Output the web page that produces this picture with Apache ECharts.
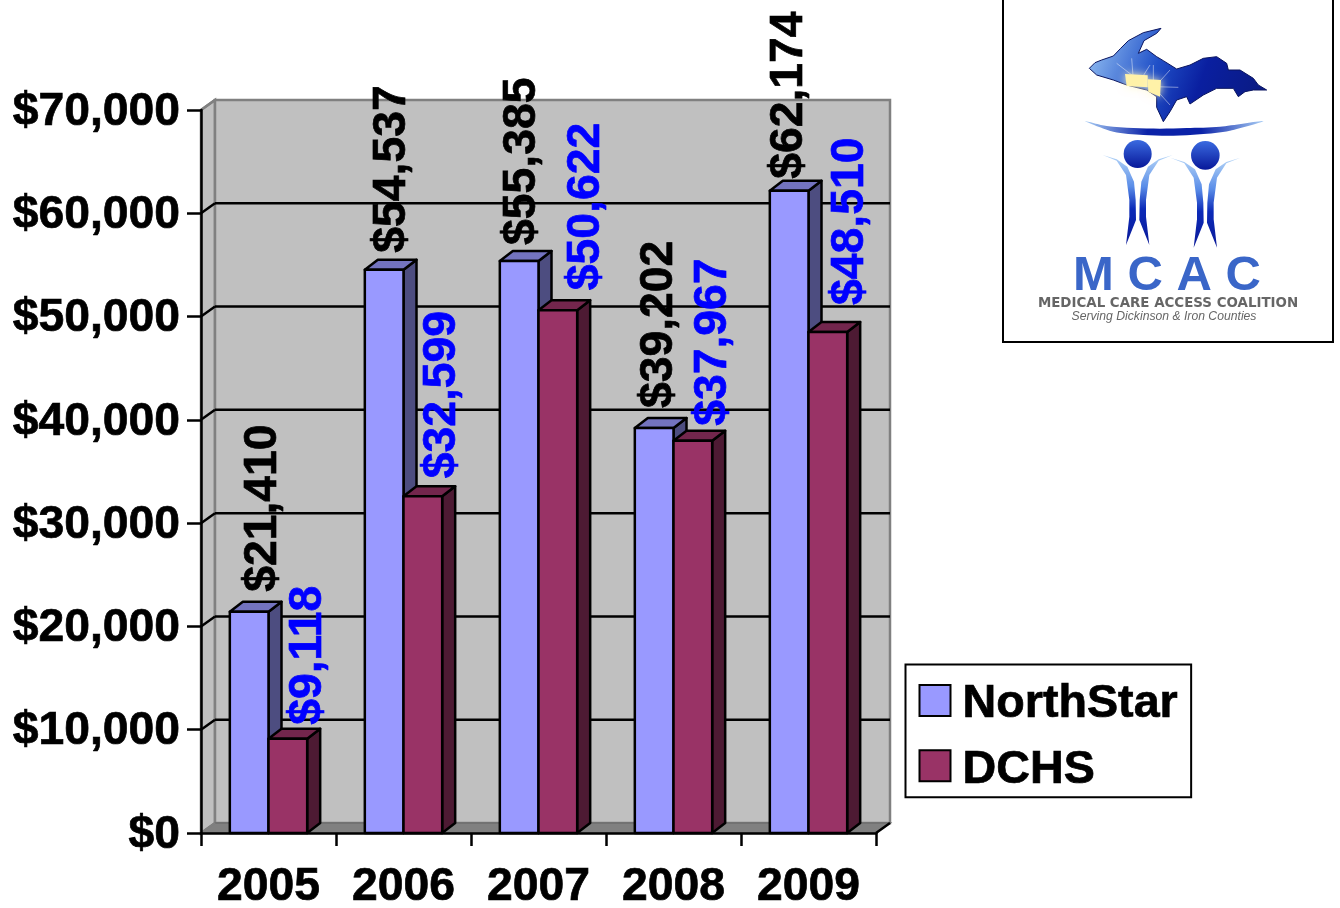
<!DOCTYPE html>
<html>
<head>
<meta charset="utf-8">
<style>html,body{margin:0;padding:0;background:#fff}#c{width:1340px;height:908px}</style>
<script src="https://cdn.jsdelivr.net/npm/echarts@6/dist/echarts.min.js"></script>
</head>
<body>
<div id="c"></div>
<script>
const years = ['2005','2006','2007','2008','2009'];
const northStar = [21410,54537,55385,39202,62174];
const dchs = [9118,32599,50622,37967,48510];
const yTicks = [0,10000,20000,30000,40000,50000,60000,70000];

// label placement nudges [dx from bar centre, gap above bar top], px
const nsNudge = [[14,20],[8,17],[3,16],[5,20],[0,12]];
const dcNudge = [[20,14],[19,18],[28,20],[20,15],[22,27]];

const FONT = '"Liberation Sans", Arial, sans-serif';
const WALL_DX = 14, WALL_DY = 10, BAR_DX = 13, BAR_DY = 10;
const money = v => '$' + v.toLocaleString('en-US');

function barSeries(name, values, nudge, seriesIdx, front, top, side, labelColor) {
  return {
    type: 'custom', name,
    itemStyle: {color: front, borderColor: '#000', borderWidth: 2.5},
    data: values.map((v,i) => [i,v]),
    encode: {x:0, y:1},
    renderItem(params, api) {
      const i = api.value(0), v = api.value(1);
      const p = api.coord([i, v]), b = api.coord([i, 0]);
      const w = api.size([1,0])[0] * 0.2865;
      const x0 = p[0] - w + seriesIdx * w, x1 = x0 + w, yt = p[1], yb = b[1];
      const line = {stroke:'#000', lineWidth:2.5, lineJoin:'round'};
      const n = nudge[i];
      return {type:'group', children:[
        {type:'polygon', shape:{points:[[x1,yb],[x1,yt],[x1+BAR_DX,yt-BAR_DY],[x1+BAR_DX,yb-BAR_DY]]}, style:Object.assign({fill:side},line)},
        {type:'polygon', shape:{points:[[x0,yt],[x0+BAR_DX,yt-BAR_DY],[x1+BAR_DX,yt-BAR_DY],[x1,yt]]}, style:Object.assign({fill:top},line)},
        {type:'rect', shape:{x:x0,y:yt,width:w,height:yb-yt}, style:Object.assign({fill:front},line)},
        {type:'text', x:x0 + w/2 + n[0], y:yt - n[1], rotation:Math.PI/2, z2:20,
          style:{text:money(v), fill:labelColor, font:'bold 46.3px '+FONT, align:'left', verticalAlign:'middle', stroke:labelColor, lineWidth:0.7}}
      ]};
    }
  };
}

const wallSeries = {
  type:'custom', silent:true, data:[[0,0]], encode:{x:0,y:1},
  renderItem(params, api) {
    const c = params.coordSys, L=c.x, R=c.x+c.width, T=c.y, B=c.y+c.height;
    const st = {stroke:'#808080', lineWidth:2.5, fill:'#c0c0c0'};
    return {type:'group', children:[
      {type:'polygon', shape:{points:[[L,T],[L+WALL_DX,T-WALL_DY],[L+WALL_DX,B-WALL_DY],[L,B]]}, style:st},
      {type:'rect', shape:{x:L+WALL_DX,y:T-WALL_DY,width:c.width,height:c.height}, style:st},
      {type:'polygon', shape:{points:[[L,B],[L+WALL_DX,B-WALL_DY],[R+WALL_DX,B-WALL_DY],[R,B]]}, style:{fill:'#808080', stroke:'#6e6e6e', lineWidth:1.5}}
    ]};
  }
};

const gridSeries = {
  type:'custom', silent:true, data:yTicks.map(v=>[0,v]), encode:{x:0,y:1},
  renderItem(params, api) {
    const c = params.coordSys, L=c.x, R=c.x+c.width, v=api.value(1), y=api.coord([0,v])[1];
    const s = {stroke:'#000', lineWidth:2.5};
    if (v === yTicks[yTicks.length-1]) return {type:'line', shape:{x1:L,y1:y,x2:L+WALL_DX,y2:y-WALL_DY}, style:{stroke:'#808080',lineWidth:2.5}};
    if (v === 0) return {type:'group', children:[
      {type:'line', shape:{x1:L,y1:y,x2:L+WALL_DX,y2:y-WALL_DY}, style:{stroke:'#808080',lineWidth:2}},
      {type:'line', shape:{x1:R,y1:y,x2:R+WALL_DX,y2:y-WALL_DY}, style:s}
    ]};
    return {type:'group', children:[
      {type:'line', shape:{x1:L,y1:y,x2:L+WALL_DX,y2:y-WALL_DY}, style:s},
      {type:'line', shape:{x1:L+WALL_DX,y1:y-WALL_DY,x2:R+WALL_DX,y2:y-WALL_DY}, style:s}
    ]};
  }
};

// ---- logo artwork ----
const ox = 1000, zp = a => a.map(p => [ox + p[0]/3, p[1]/3]);
const upShape = zp([[268,205],[285,188],[305,180],[340,168],[362,145],[385,122],[430,98],[483,85],[470,100],[432,122],[415,160],[440,148],[470,170],[490,182],[530,207],[570,195],[610,175],[650,170],[680,190],[685,210],[720,210],[760,235],[775,255],[800,270],[760,270],[735,275],[715,290],[700,265],[650,265],[610,285],[570,312],[560,290],[530,300],[510,335],[490,365],[470,322],[470,290],[440,270],[380,255],[340,240],[290,225]]);
const glowA = zp([[375,222],[443,226],[443,262],[380,258]]);
const glowB = zp([[443,238],[483,240],[480,290],[445,275]]);
const rays = [[[415,240],[350,190]],[[400,240],[395,175]],[[425,235],[450,195]],[[460,260],[460,195]],[[465,260],[510,210]],[[465,260],[535,262]],[[465,265],[510,315]]];
const swoosh = zp([[255,363],[320,378],[400,384],[480,386],[560,384],[660,380],[790,363],[690,392],[600,403],[520,407],[430,405],[340,395]]);
const limbL = [[308,465],[350,482],[378,525],[388,600],[388,650],[378,735],[408,660],[407,600],[402,545],[382,500],[350,478]];
const limbR = limbL.map(p=>[826-p[0],p[1]]);
const shift = (a,dx,dy) => a.map(p=>[p[0]+dx,p[1]+dy]);
const vgrad = (a,b) => ({type:'linear',x:0,y:0,x2:0,y2:1,colorStops:[{offset:0,color:a},{offset:1,color:b}]});
const limbFill = {type:'linear',x:0,y:0,x2:0,y2:1,colorStops:[{offset:0,color:'#b5d5f7'},{offset:0.35,color:'#5a8de8'},{offset:0.6,color:'#0b2ab8'},{offset:1,color:'#0b1a98'}]};

const logo = [
  {type:'rect', shape:{x:1003,y:-3,width:330,height:345}, style:{fill:'#fff',stroke:'#000',lineWidth:2}},
  {type:'polygon', shape:{points:upShape}, style:{stroke:'#0a1560',lineWidth:1,
    fill:{type:'linear',x:0,y:0,x2:1,y2:0.7,colorStops:[{offset:0,color:'#9cc8f5'},{offset:0.4,color:'#2050c8'},{offset:0.65,color:'#0a1fa0'},{offset:1,color:'#0a1a80'}]}}},
  ...rays.map(r=>({type:'line',shape:{x1:ox+r[0][0]/3,y1:r[0][1]/3,x2:ox+r[1][0]/3,y2:r[1][1]/3},style:{stroke:'#ffffff',lineWidth:1,opacity:0.45}})),
  {type:'polygon', shape:{points:glowA}, style:{fill:'#fff2a8',shadowBlur:10,shadowColor:'#fff8c8'}},
  {type:'polygon', shape:{points:glowB}, style:{fill:'#fff2a8',shadowBlur:10,shadowColor:'#fff8c8'}},
  {type:'polygon', shape:{points:swoosh,smooth:0.3}, style:{fill:{type:'linear',x:0,y:0,x2:1,y2:0,colorStops:[{offset:0,color:'#a8cdf5'},{offset:0.35,color:'#0b22a8'},{offset:0.65,color:'#0b22a8'},{offset:1,color:'#a8cdf5'}]}}},
  {type:'circle', shape:{cx:ox+413/3,cy:462/3,r:14}, style:{fill:vgrad('#3a6ae0','#08189a')}},
  {type:'circle', shape:{cx:ox+616/3,cy:466/3,r:14.3}, style:{fill:vgrad('#3a6ae0','#08189a')}},
  {type:'polygon', shape:{points:zp(limbL)}, style:{fill:limbFill}},
  {type:'polygon', shape:{points:zp(limbR)}, style:{fill:limbFill}},
  {type:'polygon', shape:{points:zp(shift(limbL,203,8))}, style:{fill:limbFill}},
  {type:'polygon', shape:{points:zp(shift(limbR,203,8))}, style:{fill:limbFill}},
  {type:'text', x:1167, y:276, style:{text:'M C A C', font:'bold 49px '+FONT, align:'center', verticalAlign:'middle', fill:'#3a66c8', shadowBlur:2, shadowColor:'#667', shadowOffsetX:1, shadowOffsetY:1}},
  {type:'text', x:1168, y:304, style:{text:'MEDICAL CARE ACCESS COALITION', font:'bold 13.4px "DejaVu Sans", sans-serif', align:'center', verticalAlign:'middle', fill:'#666'}},
  {type:'text', x:1164, y:316.5, style:{text:'Serving Dickinson & Iron Counties', font:'italic 12.2px '+FONT, align:'center', verticalAlign:'middle', fill:'#666'}}
];

const boldLabel = {color:'#000', fontSize:46.3, fontWeight:'bold', fontFamily:FONT, textBorderColor:'#000', textBorderWidth:0.7};

const chart = echarts.init(document.getElementById('c'), null, {renderer:'canvas'});
chart.setOption({
  animation:false,
  backgroundColor:'#fff',
  textStyle:{fontFamily:FONT},
  grid:{left:201, top:110, width:675, height:723, containLabel:false, outerBoundsMode:'none'},
  xAxis:{type:'category', data:years, z:3, boundaryGap:true,
    axisLine:{lineStyle:{color:'#000',width:2.5}},
    axisTick:{show:true, alignWithLabel:false, length:13, lineStyle:{color:'#000',width:2.5}},
    axisLabel:Object.assign({margin:31, interval:0}, boldLabel)},
  yAxis:{type:'value', min:0, max:70000, interval:10000, z:3,
    splitLine:{show:false},
    axisLine:{show:true,lineStyle:{color:'#000',width:2.5}},
    axisTick:{show:true, length:14, lineStyle:{color:'#000',width:2.5}},
    axisLabel:{margin:21, formatter:v=>'{a|'+money(v)+'}', rich:{a:Object.assign({padding:[4,0,0,0]}, boldLabel)}}},
  legend:{left:905.5, top:664.5, orient:'vertical', padding:[8.5,13,3.5,13], itemGap:10, itemWidth:31, itemHeight:31,
    backgroundColor:'#fff', borderColor:'#000', borderWidth:2, borderRadius:0,
    data:[{name:'NorthStar',icon:'rect'},{name:'DCHS',icon:'rect'}],
    formatter:n=>'{a|'+n+'}',
    textStyle:{padding:[0,0,0,7], rich:{a:Object.assign({}, boldLabel, {fontSize:46.7, padding:[8,0,0,0], lineHeight:40})}}},
  graphic:{elements:logo},
  series:[
    wallSeries, gridSeries,
    barSeries('NorthStar', northStar, nsNudge, 0, '#9999ff', '#7373bf', '#4d4d80', '#000'),
    barSeries('DCHS', dchs, dcNudge, 1, '#993366', '#73264d', '#4d1a33', '#0000ff')
  ]
});
</script>
</body>
</html>
